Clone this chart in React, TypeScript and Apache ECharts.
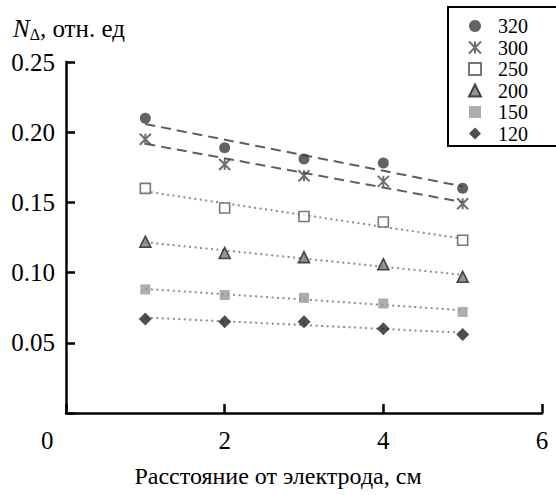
import React, { useEffect, useRef } from "react";
import * as echarts from "echarts";

const distances = [1, 2, 3, 4, 5];
const seriesNames = ["320", "300", "250", "200", "150", "120"];
const v320 = [0.21, 0.189, 0.181, 0.178, 0.16];
const v300 = [0.195, 0.177, 0.169, 0.165, 0.149];
const v250 = [0.16, 0.146, 0.14, 0.136, 0.123];
const v200 = [0.122, 0.114, 0.111, 0.106, 0.097];
const v150 = [0.088, 0.084, 0.082, 0.078, 0.072];
const v120 = [0.067, 0.065, 0.065, 0.06, 0.056];
const xMax = 6;
const xStep = 2;
const yMax = 0.25;
const yStep = 0.05;

const FONT = "Liberation Serif";

function linearFit(xs: number[], ys: number[]) {
  const n = xs.length;
  const mx = xs.reduce((a, b) => a + b, 0) / n;
  const my = ys.reduce((a, b) => a + b, 0) / n;
  let sxy = 0;
  let sxx = 0;
  for (let i = 0; i < n; i++) {
    sxy += (xs[i] - mx) * (ys[i] - my);
    sxx += (xs[i] - mx) * (xs[i] - mx);
  }
  const k = sxy / sxx;
  const b = my - k * mx;
  const x0 = xs[0];
  const x1 = xs[n - 1];
  return [
    [x0, k * x0 + b],
    [x1, k * x1 + b],
  ];
}

const STAR = "path://M0,0L10,10M10,0L0,10M5,0L5,10";

export default function App() {
  const ref = useRef<HTMLDivElement>(null);
  useEffect(() => {
    if (!ref.current) return;
    const chart = echarts.init(ref.current, null, { renderer: "svg" });
    const values = [v320, v300, v250, v200, v150, v120];
    const markerStyles: any[] = [
      { symbol: "circle", symbolSize: 11, itemStyle: { color: "#3c3c3c" } },
      {
        symbol: STAR,
        symbolSize: 11,
        itemStyle: { color: "rgba(0,0,0,0)", borderColor: "#4a4a4a", borderWidth: 2 },
      },
      {
        symbol: "rect",
        symbolSize: 10,
        itemStyle: { color: "#ffffff", borderColor: "#555555", borderWidth: 1.6 },
      },
      {
        symbol: "triangle",
        symbolSize: 11,
        itemStyle: { color: "#7a7a7a", borderColor: "#222222", borderWidth: 1.6 },
      },
      { symbol: "rect", symbolSize: 10, itemStyle: { color: "#999999" } },
      { symbol: "diamond", symbolSize: 13, itemStyle: { color: "#222222" } },
    ];
    const series: any[] = [];
    seriesNames.forEach((name, i) => {
      const dashed = i < 2;
      series.push({
        name: name + " fit",
        type: "line",
        data: linearFit(distances, values[i]),
        symbol: "none",
        silent: true,
        z: 1,
        lineStyle: dashed
          ? { color: "#5f5f5f", width: 2, type: [10, 6] }
          : { color: "#8c8c8c", width: 2, type: [2, 3.5] },
      });
    });
    seriesNames.forEach((name, i) => {
      series.push({
        name,
        type: "scatter",
        data: distances.map((d, j) => [d, values[i][j]]),
        z: 3,
        ...markerStyles[i],
      });
    });

    chart.setOption({
      animation: false,
      title: [
        {
          left: 8,
          top: 10,
          text: "{n|N}{s|Δ}{t|, отн. ед}",
          textStyle: {
            fontWeight: "normal",
            fontFamily: FONT,
            rich: {
              n: { fontFamily: FONT, fontSize: 25, fontStyle: "italic", color: "#000" },
              s: { fontFamily: FONT, fontSize: 16, color: "#000", padding: [11, 0, 0, 0] },
              t: { fontFamily: FONT, fontSize: 25, color: "#000" },
            },
          },
        },
        {
          left: "center",
          top: 459,
          text: "Расстояние от электрода, см",
          textStyle: { fontFamily: FONT, fontSize: 24, fontWeight: "normal", color: "#000" },
        },
      ],
      graphic: [
        {
          type: "rect",
          shape: { x: 448, y: 7, width: 130, height: 139 },
          style: { fill: "none", stroke: "#000", lineWidth: 2 },
          silent: true,
        },
      ],
      legend: {
        data: seriesNames,
        orient: "vertical",
        left: 468,
        top: 16,
        itemWidth: 12,
        itemHeight: 12,
        itemGap: 1.5,
        padding: 0,
        textStyle: { fontFamily: FONT, fontSize: 20, color: "#000", padding: [0, 0, 0, 12] },
      },
      grid: { left: 66, right: 14, top: 62, bottom: 82 },
      xAxis: {
        type: "value",
        min: 0,
        max: xMax,
        interval: xStep,
        axisLine: { lineStyle: { color: "#000", width: 2.5 } },
        axisTick: { inside: true, length: 9, lineStyle: { color: "#000", width: 2.5 } },
        splitLine: { show: false },
        axisLabel: {
          margin: 15,
          fontFamily: FONT,
          fontSize: 25,
          color: "#000",
          formatter: (v: number) => (v === 0 ? "0      " : String(v)),
        },
      },
      yAxis: {
        type: "value",
        min: 0,
        max: yMax,
        interval: yStep,
        axisLine: { show: true, lineStyle: { color: "#000", width: 2.5 } },
        axisTick: { show: true, inside: true, length: 9, lineStyle: { color: "#000", width: 2.5 } },
        splitLine: { show: false },
        axisLabel: {
          margin: 11,
          fontFamily: FONT,
          fontSize: 25,
          color: "#000",
          formatter: (v: number) => (v === 0 ? "" : v.toFixed(2)),
        },
      },
      series,
    });
    return () => chart.dispose();
  }, []);
  return <div ref={ref} style={{ width: 556, height: 495, position: "absolute", left: 0, top: 0 }} />;
}
